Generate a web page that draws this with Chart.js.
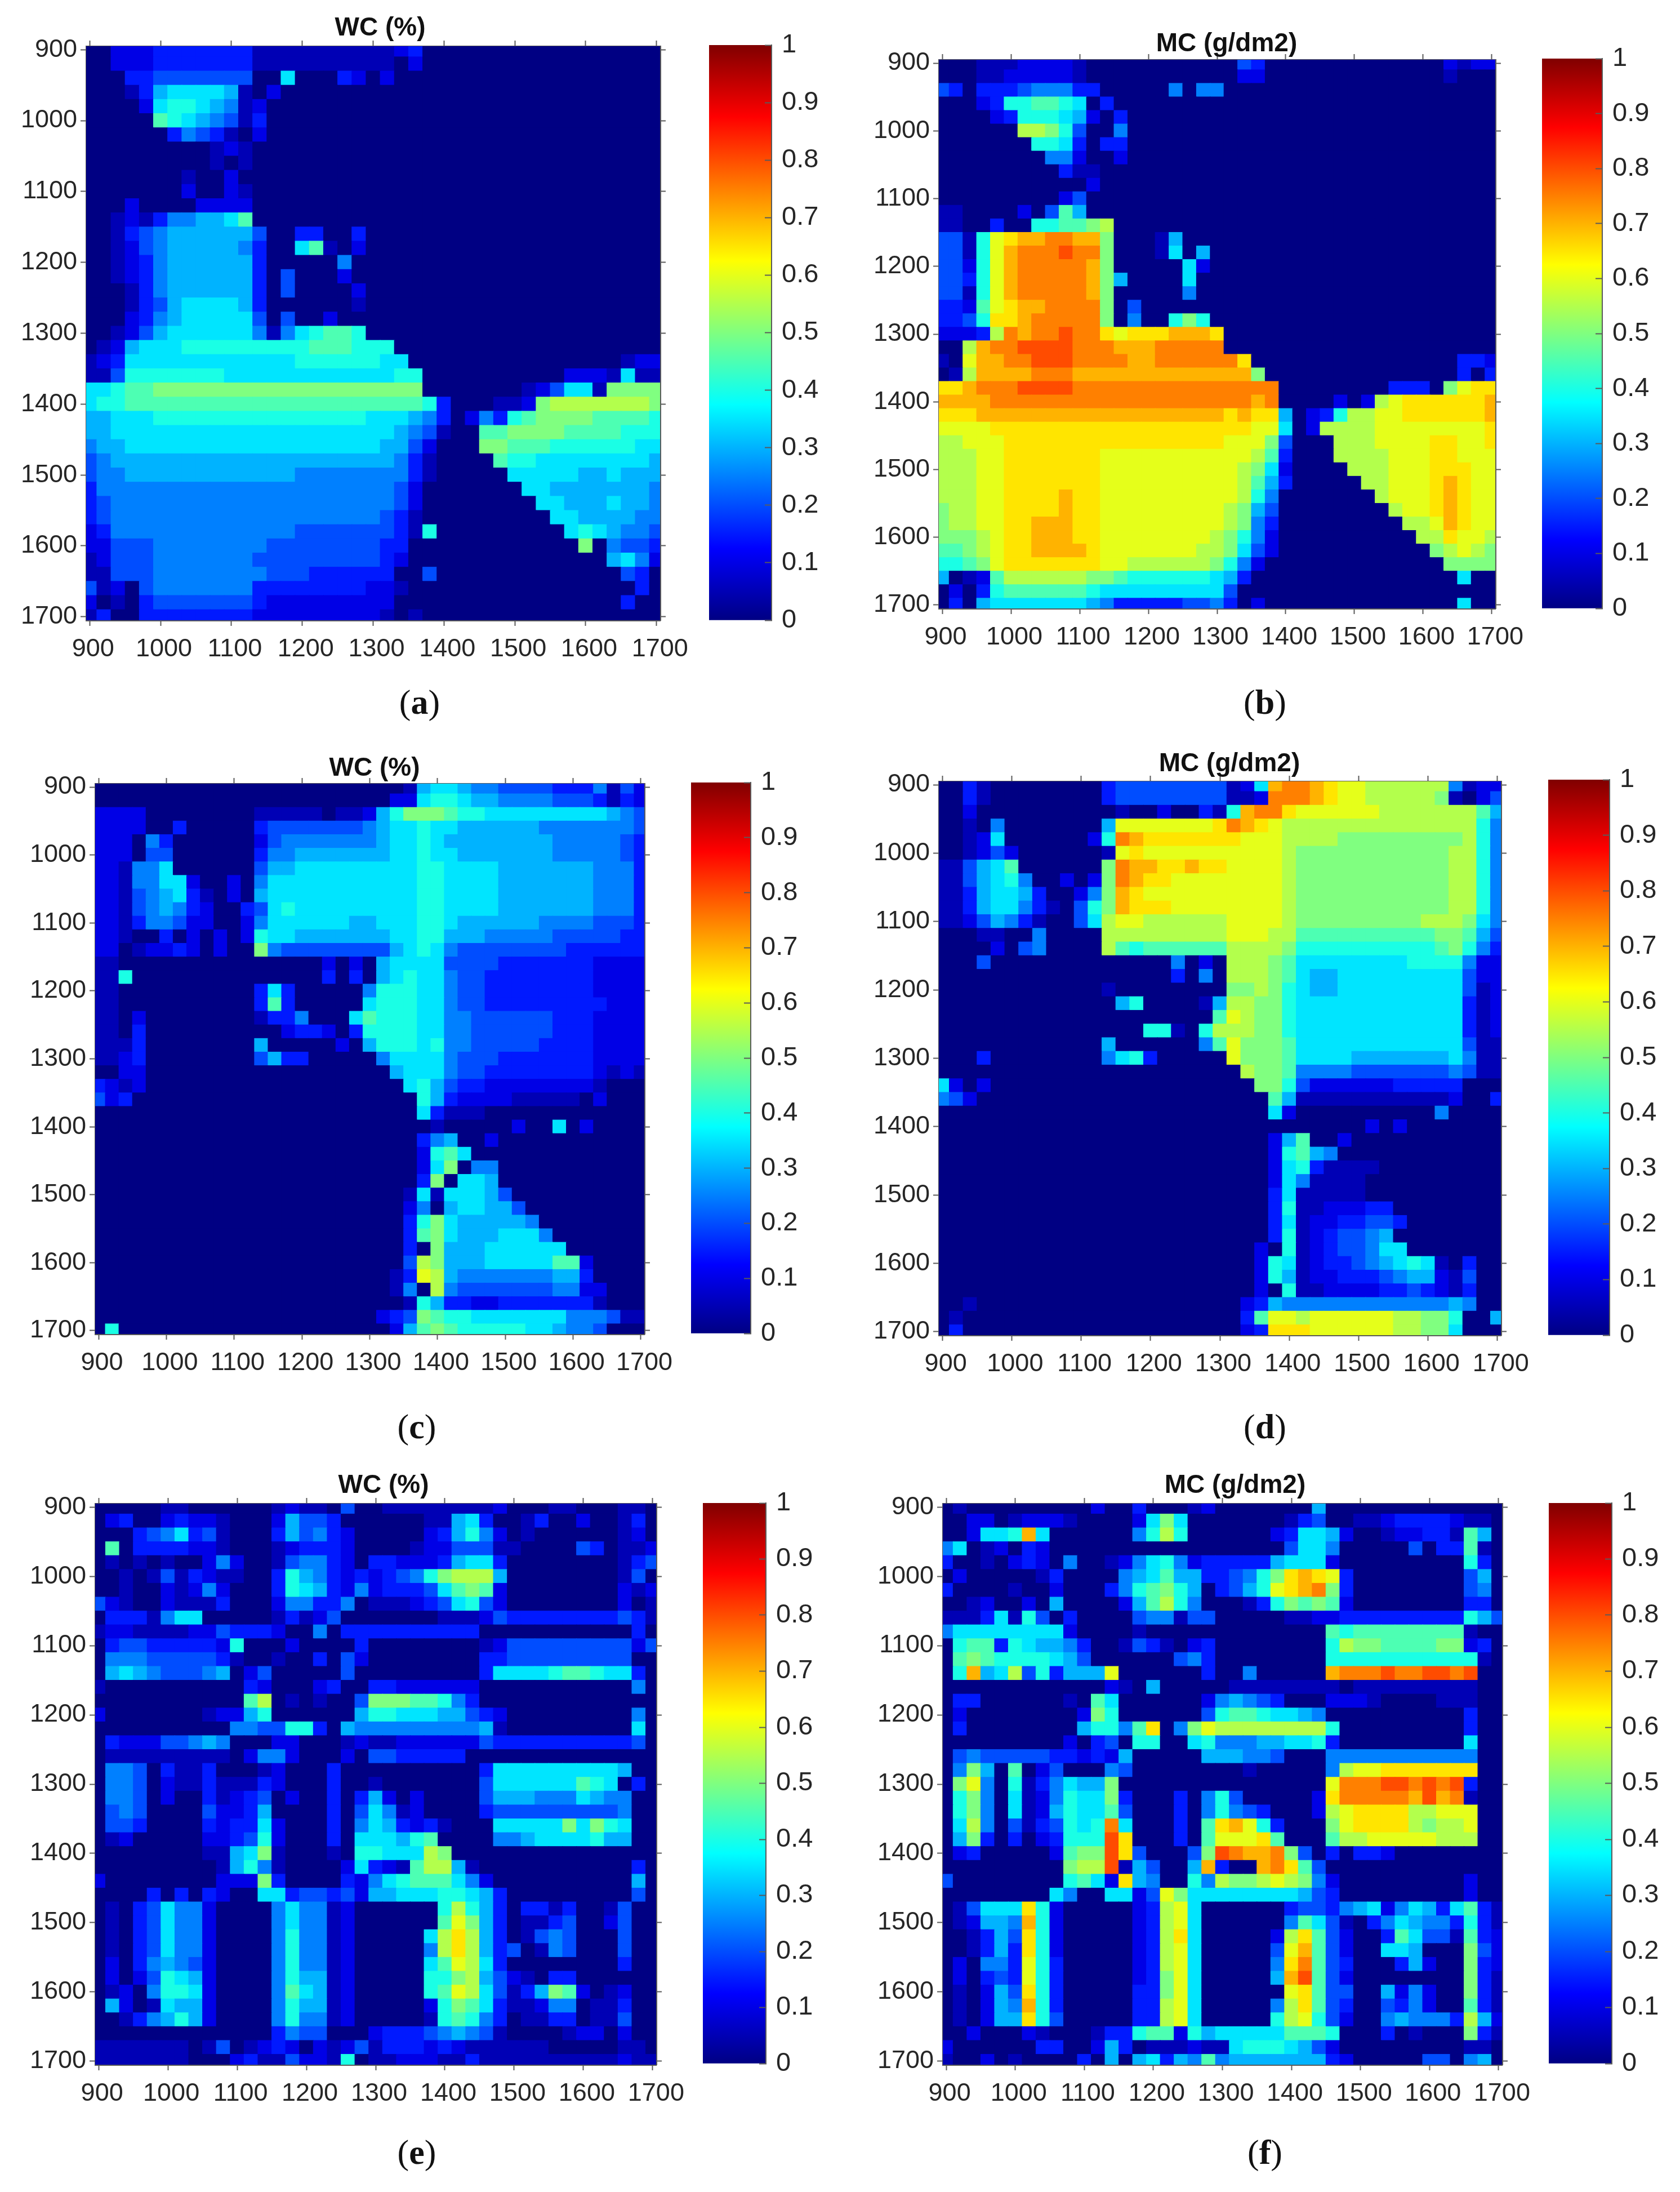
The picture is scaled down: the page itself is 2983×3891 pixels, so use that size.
<!DOCTYPE html>
<html><head><meta charset="utf-8">
<style>
html,body{margin:0;padding:0;background:#fff;width:2983px;height:3891px;overflow:hidden;position:relative}
canvas{position:absolute;display:block}
.cap{position:absolute;font:62px "Liberation Serif",serif;color:#111;transform:translate(-50%,-50%);white-space:nowrap}
.cap b{font-weight:700}
</style>
<script src="https://cdn.jsdelivr.net/npm/chart.js@4"></script>
</head><body>
<script>
// Tick labels
const wavelengthTicks = [900,1000,1100,1200,1300,1400,1500,1600,1700];
const colorTicks = [0,0.1,0.2,0.3,0.4,0.5,0.6,0.7,0.8,0.9,1];
// Levels: each character is a level index, value = index / 20. One string per 20 nm row, 900..1700.
const levelChars = "0123456789abcdefghij";

const panelA = [
"00222 33333 33111 11111 11230",
"00222 33333 33111 11111 11020",
"00033 44444 44007 00032 02000",
"00013 67777 61020",
"00002 78876 51200",
"00000 98765 41300",
"00000 03543 10200",
"00000 00001 21000",
"00000 00001 01000",
"00000 00100 20000",
"00000 00200 21000",
"00020 00022 22000",
"00121 35566 79000",
"00134 56666 66400 33003",
"00124 56666 65300 79102",
"00123 56666 66300 00050",
"00123 56666 66304 00020",
"00013 56666 66304 00002",
"00013 46777 76300 00001",
"00023 56777 77404 00200",
"00124 67777 77515 78998 00000",
"01267 77888 88888 89998 88000",
"12377 77777 77777 88888 87700 00000 00000 00012 2",
"11488 88888 77777 77777 77880 00000 00002 22171 1",
"77899 aaaaa aaaaa aaaaa aaaa0 00000 01247 71aaa a",
"78899 99999 99999 99999 99998 30001 12abb bbbbb a",
"66777 88888 88888 88888 77765 30253 89aaa a9999 8",
"66777 77777 77777 77777 77654 10099 aaaa9 99988 8",
"56677 77777 77777 77777 76642 000aa 99988 88887 7",
"45666 66666 66666 66666 66531 00009 88777 77777 6",
"45566 66666 66666 55555 55531 00000 77777 66766 6",
"35555 55555 55555 55555 55420 00000 07766 66666 5",
"34555 55555 55555 55555 55420 00000 00776 66766 5",
"34555 55555 55555 55555 54310 00000 00077 66665 5",
"23555 55555 55555 44444 44318 00000 00007 87655 4",
"22444 55555 55544 44444 43300 00000 00000 a0544 3",
"12444 55555 55444 44444 43200 00000 00000 00675 2",
"11444 55555 55544 43333 33004 00000 00000 00043 0",
"41204 55555 55333 33333 22100 00000 00000 00003 0",
"20103 44444 44322 22222 22000 00000 00000 00030 0",
"13003 33333 33222 22222 21010"
];

const panelB = [
"00011 12222 10000 00000 00430 00000 00000 00212 2",
"00011 22222 10000 00000 00220 00000 00000 00100",
"43033 34555 33000 00505 50000",
"00023 88998 70300",
"00002 38887 62030",
"00000 0bba8 40050",
"00000 00887 30330",
"00000 00055 20020",
"00000 00003 11000",
"00000 00000 02000",
"00000 00002 40000",
"11000 02049 60000",
"11003 00889 9ab00",
"4418c deeff eea00 01600",
"4418c efffg ffa00 01706",
"4428c effff fea00 00072",
"4438c effff fea60 00070",
"4418c effff fea00 00050",
"3329c deeff ffa04",
"3348d defff ffa05 008a8",
"2223b feffg ffdcd ddeee d0000",
"00bef fgggg fffee effff f0000",
"10cee ffggg ffffe effff ffd00 00000 00000 00033 2",
"01bee eefff eeeee eeeee eeea0 00000 00000 00030 3",
"ddeff fgggg fffff fffff fffff 00000 00033 30acd d",
"eeeef fffff fffff fffff fffef 00002 02bcd ddddd e",
"dddee eeeee eeeee eeeee ededd 60238 bbccd ddddd e",
"ccccd ddddd ddddd ddddd dddcc 702bb bbccc ccccc d",
"bbccc ddddd ddddd ddddd dccca 4000b bbccc cddcc d",
"bbbcc ddddd ddccc ccccc cccb9 3000b bbbcc cddcc c",
"bbbcc ddddd ddccc ccccc ccba7 20000 bbbcc cdddc c",
"bbbcc ddddd ddccc ccccc ccb96 30000 0bbcc cdedc c",
"bbbcc dddde ddccc ccccc ccb85 00000 00bcc cdedc c",
"abbcc dddde ddccc ccccc cba64 00000 000bc cdedc c",
"abbcc ddeee ddccc ccccc cba53 00000 0000b bcedc c",
"aaabc ddeee ddccc ccccc ba852 00000 00000 bbdcc b",
"99abc ddeee edccc ccccb ba742 00000 00000 0abcb a",
"889ac ddddd ddccb bbbbb a8520 00000 00000 00aaa a",
"60129 bbbbb baa98 88888 76300 00000 00000 00070",
"02038 99999 98777 77777 74000",
"03067 77777 76533 33344 53020 00000 00000 00070"
];

const panelC = [
"00000 00000 00000 00000 00016 77655 44443 33514 2",
"00000 00000 00000 00000 00227 88766 55554 44313 2",
"22220 00000 00111 11011 268aa a9887 77777 77765 4",
"22220 03000 00344 44444 56778 77666 66655 55555 4",
"22205 30000 00245 55555 56778 76666 66665 55554 3",
"22204 40000 00355 66666 66778 77666 66665 55554 3",
"22155 70000 00466 77777 77778 87777 66666 66555 3",
"22155 77200 20577 77777 77778 87777 66666 66555 3",
"22145 67310 20677 77777 77778 87777 66666 66555 3",
"22145 65320 03478 77777 77778 87777 66666 66555 3",
"22135 54220 02577 77776 67778 87666 66655 55444 3",
"22100 30202 02877 66666 66778 86665 55554 44443 3",
"22012 23202 00a54 44444 44678 75444 44444 33333 3",
"11000 00000 00000 00202 06777 74444 33333 33222 2",
"11800 00000 00000 00303 06787 75443 33333 33222 2",
"11000 00000 00373 00000 58887 75443 33333 33222 2",
"11000 00000 00393 00000 78887 75443 33333 33322 2",
"11020 00000 00133 50007 98887 75544 44443 33222 2",
"11030 00000 00002 33203 88887 75544 44443 33222 2",
"11130 00000 00600 00020 68887 85544 44433 33222 2",
"11230 00000 00463 30000 05777 75444 33333 33222 2",
"00220 00000 00000 00000 00677 75443 33333 33212 1",
"32120 00000 00000 00000 00078 64332 22222 22100",
"42300 00000 00000 00000 00008 63222 21111 10200",
"00000 00000 00000 00000 00007 31110",
"00000 00000 00000 00000 00000 10000 02007 02000",
"00000 00000 00000 00000 00003 56002",
"00000 00000 00000 00000 00002 89700",
"00000 00000 00000 00000 00002 7a055",
"00000 00000 00000 00000 00003 a0776",
"00000 00000 00000 00000 00017 17776 40000",
"00000 00000 00000 00000 00025 06776 64000",
"00000 00000 00000 00000 00038 a7666 66500",
"00000 00000 00000 00000 00039 a7666 77750",
"00000 00000 00000 00000 00030 a6667 77777",
"00000 00000 00000 00000 0004b a6667 77779 92000",
"00000 00000 00000 00000 0013c b6555 55556 63000",
"00000 00000 00000 00000 00150 b5444 44445 52200",
"00000 00000 00000 00000 00018 63322 33333 33100",
"00000 00000 00000 00000 0234a 98877 77777 55541 1",
"08000 00000 00000 00000 00269 a9888 88776 55400"
];

const panelD = [
"00310 00000 00344 44444 4127e ffedc cbbbb bb512 2",
"00310 00000 00344 44444 4112f ffedc cbbbb ba102 4",
"00200 00000 00010 02003 18eff dcccc ccbbb bbbb9 6",
"00105 00000 006cc ccccc dfedc bbbbb bbbbb bbbb8 5",
"00127 00000 028fe ddddd ddccc bbbba aaaaa aaab8 5",
"00124 20000 001cd ccccc ccccc baaaa aaaaa aabb8 5",
"11467 90000 00afe edded dcccc baaaa aaaaa aabb8 5",
"11467 85002 02afe ddccc ccccc baaaa aaaaa aabb8 5",
"11367 76300 25aed ccccc ccccc baaaa aaaaa aabb8 5",
"11367 75310 48aed ddccc ccccc baaaa aaaaa aabb8 5",
"11246 53100 47bcc bbbbb bcccc baaaa aaaaa bbba7 5",
"00011 00500 00bbb bbbbb bcccb b9999 99999 9aa96 4",
"00002 04500 00b98 99999 9bbbb a8888 88888 89a85 3",
"00040 00000 00000 00502 0bbba 97777 77778 88852 2",
"00000 00000 00000 00305 0bbba 97667 77777 77742 2",
"00000 00000 00100 00000 0aaba 87667 77777 77741 2",
"00000 00000 00068 00001 6bbaa 87777 77777 77731 2",
"00000 00000 00000 00000 9cbaa 87777 77777 77731 2",
"00000 00000 00000 88108 bbbaa 87777 77777 77731 2",
"00000 00000 00600 00005 9caaa 97777 77777 77741 1",
"00030 00000 00578 30000 0caaa 97777 66666 66751 1",
"00000 00000 00000 00000 00baa 95555 44444 44541 1",
"72020 00000 00000 00000 000aa 84222 22233 33300",
"54200 00000 00000 00000 00009 61111 11111 11200 3",
"00000 00000 00000 00000 00007 20000 00000 05000",
"00000 00000 00000 00000 00000 00000 02020",
"00000 00000 00000 00000 00002 69002",
"00000 00000 00000 00000 00002 89650",
"00000 00000 00000 00000 00002 78311 11000",
"00000 00000 00000 00000 00002 75111 10000",
"00000 00000 00000 00000 00003 71111 10000",
"00000 00000 00000 00000 00003 81122 23300",
"00000 00000 00000 00000 00003 71223 34430",
"00000 00000 00000 00000 00003 81234 45600",
"00000 00000 00000 00000 00020 81234 45770",
"00000 00000 00000 00000 00028 71233 45678 71030",
"00000 00000 00000 00000 00028 61223 33456 62140",
"00000 00000 00000 00000 00020 81122 22334 32130",
"00100 00000 00000 00000 00236 55555 55555 55650",
"01000 00000 00000 00000 0039c cbccc cccbb aa800 6",
"03000 00000 00000 00000 0023d ddccc cccbb aa700"
];

const panelE = [
"00000 11000 00012 11040 01111 11112 00011 00011",
"02300 23221 00026 44300 00001 16730 01300 20013",
"00034 57341 00036 45320 00002 36852 01000 00012",
"09033 33221 00012 33320 00012 24441 10000 43011 2",
"01010 10025 20014 55320 33222 36773 00000 00013 4",
"00101 41321 10038 65323 23458 abbb6 00000 00014",
"00100 21252 00038 76325 23334 79a92 00000 00021 2",
"42100 21113 00025 53350 11123 47842 00000 00020 1",
"03331 57700 00013 12400 00000 11124 33333 33343 1",
"12211 11224 33320 05033 33333 33300 00000 00003",
"03443 33332 80002 00003 00000 00012 44444 44442 4",
"05554 44443 10010 03042 00000 00033 44444 44440",
"06765 44456 02400 00040 00000 00037 77789 98773",
"10000 00000 03200 02300 33222 22200 00000 00005",
"00000 00000 09b01 01004 aaa99 85300",
"20000 00012 26800 00006 88777 66432 00000 00005",
"00000 00000 55448 83065 55555 55561 00000 00007",
"03222 44565 00022 00012 11222 22243 33333 33334",
"01111 11111 02552 00020 44333 33000",
"05540 31130 00120 00300 00000 00037 77777 77760",
"05540 21131 11320 00300 10000 00047 77777 98703",
"05540 20031 23402 00303 62020 00046 66555 76550",
"04540 00042 23600 00304 75120 00034 44444 44450",
"04430 00032 33720 00305 76323 10007 7777a 7a870",
"01200 00022 34820 00307 77689 00005 56777 78660",
"00000 00011 67a10 00108 8777b a0000",
"00000 00001 68510 00027 3219b b6100 00000 00003",
"20000 00002 22a30 00032 57899 97520 00000 00006",
"00003 03032 00773 44342 66777 88763 00000 00004",
"01034 75520 00057 55120 00000 8b863 03313 00140",
"01034 75520 00057 55120 00000 9ca63 01134 00240",
"01034 75520 00058 55120 00007 bdb63 01454 00040",
"01034 75520 00058 55120 00005 bdb63 40154 00040",
"02035 65420 00058 55120 00007 9cb73 00000 00030",
"02024 87620 00058 66120 00008 8ab64 21033",
"01205 88720 00059 76120 00008 9cb74 136a9 20120",
"06201 76620 00058 66120 00002 8a973 11255 01130",
"00135 68620 00058 55120 00001 89853 01133 01140",
"00000 00000 00035 44000 23334 56541 00001 22020",
"11111 11014 01232 02124 13332 32111 11100 00011",
"11111 11000 23114 22180 11222 11311 11111 11121 1"
];

const panelF = [
"01000 00000 02003 00012 00000 00600",
"00220 12221 00002 7a700 00000 13400 11233 33211",
"00277 8e700 00005 8b800 00002 37762 00122 33196",
"57012 03200 00000 00000 00000 47750 00004 03391",
"30010 23205 00125 78523 33336 77720 00000 00083",
"02000 00130 00056 79663 3458a dedc3 00000 00046",
"30000 10020 00358 9a860 3468c defa3 00000 00045",
"00120 02060 00026 9b850 00138 a9a92 00000 00033",
"11137 18403 00004 55144 00000 11223 33333 33386 4",
"57777 77772 00001 00000 00000 00098 99999 99910",
"08993 87665 30014 31023 00000 0008b aa999 9aa23",
"09a98 88876 40000 00453 00000 00088 88888 88881",
"08e67 b4836 66c00 00003 00500 000ef ffgff ggfg0",
"00000 00000 00210 60000 01111 11110 11111 11110",
"03300 00001 09700 00002 56543 00022 21000 01110",
"02000 00000 2a800 00004 89987 76500 00000 00030",
"03000 00000 68859 d05ac bbbbb bbb80 00000 00030",
"00000 00002 03408 80078 55566 77830 00000 00070",
"04544 44433 23260 00006 66554 00055 55555 55550",
"05a60 90240 00540 00000 00100 0005b ccddd dddd0",
"0ac50 81357 66a00 00000 00000 000cf ffggf gfg30",
"08a50 71258 77a30 00305 84000 002df ffffe gef10",
"08a50 71268 77940 00305 85430 002bc ddddb bccc0",
"07b50 41348 78f70 00309 dec83 000ac ddddb abbc0",
"06a30 30238 88gd0 00309 cccd9 0009b bcccc cbbb0",
"02300 00029 aagd4 0004a gfeef a4030 33200",
"00000 0000a bbg16 4006e 300ef d9400",
"40000 00008 972d6 50085 baabc ba520 00000 00020",
"00000 00075 00772 4ca77 77777 76430 00000 00020",
"01477 7d820 00002 3bc70 00000 34435 67257 63793 1",
"01266 5e820 00002 3bc70 00000 59741 03576 55383 1",
"00136 4d820 00002 3bd70 00002 bd942 00397 44193 2",
"00136 3d820 00002 3bc70 00004 ce942 00776 000a4 2",
"02055 3c830 00002 3bc70 00005 df943 00036 200a3 2",
"02034 3c830 00002 3ac70 00006 eg942 00000 000a3 1",
"01026 4d830 00003 3ac70 00000 cd944 00625 200a3 1",
"01026 5e830 00003 3bc70 00005 bd943 00435 20093 1",
"01026 6d840 00003 3bc70 00008 bc842 00565 553b6 2",
"00200 02100 01338 99286 77777 99980 00301 000a3 1",
"20000 00330 02630 11121 17888 76420 00000 00011",
"10020 10000 30606 73659 56666 66632 00000 44056"
];

const jetStops = [[0,[0,0,131]],[0.125,[0,0,255]],[0.375,[0,255,255]],[0.625,[255,255,0]],[0.875,[255,0,0]],[1,[128,0,0]]];
function jet(v){
  for(let i=1;i<jetStops.length;i++){
    if(v<=jetStops[i][0]){
      const [a,ca]=jetStops[i-1],[b,cb]=jetStops[i],t=(v-a)/(b-a);
      return 'rgb('+ca.map((c,k)=>Math.round(c+(cb[k]-c)*t)).join(',')+')';
    }
  }
  return 'rgb(128,0,0)';
}
const FONT='"Liberation Sans", Arial, sans-serif', TXT='#262626', LINE='#5a5a5a';
const layouts=[
 {rows:panelA,title:'WC (%)',    L:153, R:1172,T:82,  B:1101,gap:32,tc:675, cb:[1259,1370,80,1101],  cap:['a',745,1246]},
 {rows:panelB,title:'MC (g/dm2)',L:1667,R:2655,T:106, B:1080,gap:28,tc:2178,cb:[2738,2845,104,1080], cap:['b',2246,1246]},
 {rows:panelC,title:'WC (%)',    L:169, R:1144,T:1391,B:2368,gap:27,tc:665, cb:[1227,1333,1389,2367],cap:['c',740,2532]},
 {rows:panelD,title:'MC (g/dm2)',L:1667,R:2665,T:1387,B:2370,gap:31,tc:2183,cb:[2749,2858,1384,2370],cap:['d',2246,2532]},
 {rows:panelE,title:'WC (%)',    L:169, R:1165,T:2669,B:3665,gap:32,tc:681, cb:[1248,1360,2668,3663],cap:['e',740,3820]},
 {rows:panelF,title:'MC (g/dm2)',L:1674,R:2667,T:2669,B:3665,gap:32,tc:2193,cb:[2750,2862,2668,3663],cap:['f',2246,3820]}
];
function addCanvas(l,t,w,h){
  const c=document.createElement('canvas');
  c.width=w;c.height=h;c.style.left=l+'px';c.style.top=t+'px';c.style.width=w+'px';c.style.height=h+'px';
  document.body.appendChild(c);return c.getContext('2d');
}
function cells(rows){
  const pts=[];
  rows.forEach((row,r)=>{
    const s=row.replace(/\s/g,'').padEnd(41,'0').slice(0,41);
    for(let c=0;c<41;c++) pts.push({x:900+20*c,y:900+20*r,v:levelChars.indexOf(s[c])/20});
  });
  return pts;
}
const setTicks=a=>{a.ticks=wavelengthTicks.map(v=>({value:v}));};
function axis(position,size,showLabels,reverse){
  const horiz=position==='top'||position==='bottom';
  return {
    type:'linear',position,min:895,max:1705,reverse:!!reverse,
    afterBuildTicks:setTicks,
    afterFit:s=>{ if(horiz) s.height=size; else s.width=size; },
    grid:{drawOnChartArea:false,drawTicks:true,tickLength:10,tickColor:LINE,tickWidth:2},
    border:{display:true,color:LINE,width:3},
    ticks:{display:showLabels,autoSkip:false,maxRotation:0,minRotation:0,padding:horiz?15:6,color:TXT,
      labelOffset:horiz?6:0,font:{family:FONT,size:45},callback:v=>String(v)}
  };
}
layouts.forEach(p=>{
  const W=p.R-p.L,H=p.B-p.T,ml=150,titleSize=46,padTop=18,bottom=110;
  const topAxis=Math.max(p.gap-titleSize/2,1);
  const cl=p.L-ml,cw=2*(p.tc-cl),mr=cw-ml-W;
  const ct=p.T-topAxis-titleSize-padTop,ch=topAxis+titleSize+padTop+H+bottom;
  const pts=cells(p.rows);
  const cellPx=Math.max(W,H)/810*20+1;
  new Chart(addCanvas(cl,ct,cw,ch),{
    type:'scatter',
    data:{datasets:[{data:pts,pointStyle:'rect',pointRadius:cellPx/Math.SQRT2,pointHoverRadius:cellPx/Math.SQRT2,
      pointBorderWidth:0,backgroundColor:pts.map(d=>jet(d.v)),clip:0}]},
    options:{responsive:false,animation:false,devicePixelRatio:1,events:[],layout:{padding:0},
      plugins:{legend:{display:false},tooltip:{enabled:false},
        title:{display:true,text:p.title,color:'#111',padding:{top:padTop,bottom:0},font:{family:FONT,size:titleSize,weight:'bold',lineHeight:1}}},
      scales:{
        x:axis('bottom',bottom,true),
        xTop:axis('top',topAxis,false),
        y:axis('left',ml,true,true),
        yRight:axis('right',mr,false,true)
      }}
  });
  // Colour bar
  const [bl,br,bt,bb]=p.cb,pad=30,rightW=110;
  new Chart(addCanvas(bl-2,bt-pad,br-bl+rightW+2,bb-bt+2*pad),{
    type:'bar',
    data:{labels:[''],datasets:[{data:[[0,1]],barPercentage:1,categoryPercentage:1,borderWidth:0,
      backgroundColor:c=>{
        const a=c.chart.chartArea; if(!a) return '#000083';
        const g=c.chart.ctx.createLinearGradient(0,a.bottom,0,a.top);
        jetStops.forEach(s=>g.addColorStop(s[0],jet(s[0])));
        return g;
      }}]},
    options:{responsive:false,animation:false,devicePixelRatio:1,events:[],layout:{padding:{top:pad,bottom:pad,left:2}},
      plugins:{legend:{display:false},tooltip:{enabled:false},title:{display:false}},
      scales:{
        x:{display:false},
        y:{type:'linear',position:'right',min:0,max:1,
          afterBuildTicks:a=>{a.ticks=colorTicks.map(v=>({value:v}));},
          afterFit:s=>{s.width=rightW;s.paddingTop=0;s.paddingBottom=0;},
          grid:{drawOnChartArea:false,drawTicks:true,tickLength:-12,tickColor:LINE,tickWidth:2,z:1},
          border:{display:true,color:LINE,width:2,z:1},
          ticks:{autoSkip:false,padding:30,color:TXT,font:{family:FONT,size:47},callback:v=>String(v)}}
      }}
  });
  const d=document.createElement('div');d.className='cap';d.style.left=p.cap[1]+'px';d.style.top=p.cap[2]+'px';
  d.innerHTML='(<b>'+p.cap[0]+'</b>)';document.body.appendChild(d);
});
</script>
</body></html>
